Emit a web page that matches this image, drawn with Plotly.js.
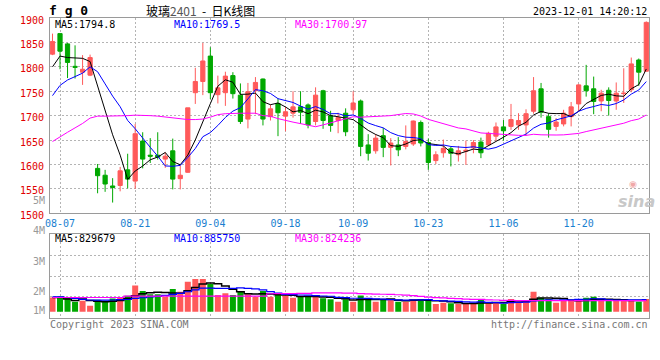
<!DOCTYPE html>
<html>
<head>
<meta charset="utf-8">
<script src="https://cdn.plot.ly/plotly-3.0.1.min.js"></script>
<style>html,body{margin:0;padding:0;background:#fff;}#chart{width:660px;height:360px;}</style>
</head>
<body>
<div id="chart"></div>
<script>
// ---- data (FG401 glass futures, daily K line) ----
const dates = ['08-04','08-07','08-08','08-09','08-10','08-11','08-14','08-15','08-16','08-17','08-18',
 '08-21','08-22','08-23','08-24','08-25','08-28','08-29','08-30','08-31','09-01',
 '09-04','09-05','09-06','09-07','09-08','09-11','09-12','09-13','09-14','09-15',
 '09-18','09-19','09-20','09-21','09-22','09-25','09-26','09-27','09-28',
 '10-09','10-10','10-11','10-12','10-13','10-16','10-17','10-18','10-19','10-20',
 '10-23','10-24','10-25','10-26','10-27','10-30','10-31','11-01','11-02','11-03',
 '11-06','11-07','11-08','11-09','11-10','11-13','11-14','11-15','11-16','11-17',
 '11-20','11-21','11-22','11-23','11-24','11-27','11-28','11-29','11-30','12-01'];

const openP  = [1826,1868,1847,1801,1789,1783,1592,1578,1556,1557,1589,1566,1648,1619,1619,1611,1628,1571,1584,1747,
                1770,1822,1743,1747,1782,1742,1693,1751,1775,1698,1725,1699,1705,1718,1722,1688,1751,1700,1690,1705,
                1712,1730,1640,1628,1659,1635,1640,1637,1642,1686,1645,1608,1624,1632,1620,1627,1634,1646,1640,1658,
                1677,1678,1681,1681,1709,1755,1698,1678,1683,1698,1724,1761,1755,1730,1752,1730,1745,1753,1814,1791];
const highP  = [1868,1868,1849,1844,1824,1825,1601,1589,1572,1595,1622,1683,1666,1654,1666,1625,1653,1598,1716,1798,
                1849,1840,1782,1790,1789,1766,1767,1779,1776,1723,1735,1718,1750,1750,1725,1758,1753,1710,1706,1715,
                1750,1733,1662,1662,1675,1654,1656,1680,1690,1690,1653,1627,1651,1637,1638,1649,1650,1655,1667,1686,
                1691,1724,1705,1713,1779,1767,1705,1695,1712,1728,1765,1804,1780,1753,1758,1768,1797,1819,1817,1893];
const lowP   = [1824,1795,1777,1776,1763,1781,1541,1544,1522,1545,1551,1550,1592,1603,1610,1593,1549,1549,1583,1724,
                1742,1734,1725,1720,1735,1683,1674,1703,1680,1690,1658,1668,1696,1683,1674,1680,1673,1667,1664,1658,
                1703,1617,1608,1622,1615,1598,1617,1631,1638,1637,1589,1601,1614,1596,1606,1599,1623,1613,1638,1648,
                1649,1671,1671,1659,1704,1696,1655,1669,1678,1678,1709,1739,1703,1709,1700,1712,1726,1748,1761,1790];
const closeP = [1852,1832,1809,1799,1795,1819,1577,1560,1553,1587,1570,1663,1611,1617,1615,1617,1570,1578,1716,1770,
                1812,1747,1757,1781,1745,1688,1749,1768,1693,1714,1706,1708,1718,1707,1681,1742,1690,1680,1696,1667,
                1726,1637,1623,1654,1635,1644,1630,1647,1689,1644,1604,1620,1633,1623,1628,1629,1645,1624,1664,1677,
                1669,1692,1690,1704,1751,1707,1672,1687,1705,1718,1763,1751,1729,1746,1731,1746,1746,1806,1789,1891];
const volume = [970000,1000000,970000,760000,810000,570000,860000,810000,920000,970000,1050000,1540000,1280000,1120000,1120000,1000000,1380000,1250000,1730000,1860000,
                1860000,1620000,1090000,1170000,1090000,1280000,1120000,1000000,1280000,1000000,1090000,1060000,960000,1000000,1000000,1090000,930000,880000,770000,880000,
                770000,1060000,900000,770000,850000,880000,770000,770000,900000,900000,850000,660000,720000,690000,660000,660000,690000,850000,690000,740000,
                660000,900000,770000,850000,1250000,960000,900000,720000,800000,800000,850000,960000,1000000,800000,800000,800000,900000,850000,770000,900000];

// moving-average values before enough history exists inside the window
const ma5Head  = [1800,1822,1819,1818];
const ma10Head = [1741,1762,1773,1780,1787,1800,1790,1765,1740];
const ma30Head = [1647,1657,1666,1675,1684,1695,1699,1699,1699,1700,1700,1701,1701,1700,1699,1697,1695,1693,1692,1692,
                  1693,1697,1702,1704,1705,1705,1705,1705,1700];
const vma5Head  = [970000,970000,900000,820000];
const vma10Head = [1000000,1000000,970000,920000,880000,850000,840000,840000,850000];
const vma30Head = [970000,970000,970000,970000,970000,970000,970000,970000,970000,970000,
                   1030000,1030000,1030000,1030000,1030000,1030000,1030000,1030000,1030000,1030000,
                   1030000,1030000,1030000,1030000,1030000,1030000,1030000,1030000,1030000];

const tickDates = ['08-07','08-21','09-04','09-18','10-09','10-23','11-06','11-20'];
const priceTicks = [1500,1550,1600,1650,1700,1750,1800,1850,1900];

// ---- helpers ----
function movingAvg(arr, n, head){
  return arr.map((v,i)=>{
    if(i < n-1) return head[i];
    let s=0; for(let k=i-n+1;k<=i;k++) s+=arr[k];
    return s/n;
  });
}
const idx = dates.map((d,i)=>i);
const tickIdx = tickDates.map(d=>dates.indexOf(d));
const RED='#ff5a5a', GREEN='#00a800';
const volBase = 280000;
const volColors = idx.map(i=> closeP[i] >= openP[i] ? RED : GREEN);

const W=660,H=360;
const px = v=>v/W, py = v=>1-v/H;
const mono = 'DejaVu Sans Mono, monospace';

const traces = [
  {type:'candlestick', x:idx, open:openP, high:highP, low:lowP, close:closeP,
   increasing:{line:{color:RED,width:1}, fillcolor:RED},
   decreasing:{line:{color:GREEN,width:1}, fillcolor:GREEN},
   whiskerwidth:0, hoverinfo:'skip', xaxis:'x', yaxis:'y', showlegend:false},
  {type:'scatter', mode:'lines', x:idx, y:movingAvg(closeP,5,ma5Head), line:{color:'#000000',width:1}, xaxis:'x', yaxis:'y', hoverinfo:'skip'},
  {type:'scatter', mode:'lines', x:idx, y:movingAvg(closeP,10,ma10Head), line:{color:'#0000ff',width:1}, xaxis:'x', yaxis:'y', hoverinfo:'skip'},
  {type:'scatter', mode:'lines', x:idx, y:movingAvg(closeP,30,ma30Head), line:{color:'#ff00ff',width:1}, xaxis:'x', yaxis:'y', hoverinfo:'skip'},
  {type:'bar', x:idx, y:volume.map(v=>v-volBase), base:volBase, width:0.8, marker:{color:volColors, line:{width:0}}, xaxis:'x2', yaxis:'y2', hoverinfo:'skip'},
  {type:'scatter', mode:'lines', x:idx, y:movingAvg(volume,5,vma5Head), line:{color:'#000000',width:1.5,shape:'hvh'}, xaxis:'x2', yaxis:'y2', hoverinfo:'skip'},
  {type:'scatter', mode:'lines', x:idx, y:movingAvg(volume,10,vma10Head), line:{color:'#0000ff',width:1.2,shape:'hvh'}, xaxis:'x2', yaxis:'y2', hoverinfo:'skip'},
  {type:'scatter', mode:'lines', x:idx, y:movingAvg(volume,30,vma30Head), line:{color:'#ff00ff',width:1.2,shape:'hvh'}, xaxis:'x2', yaxis:'y2', hoverinfo:'skip'}
];

const gridStyle = {showgrid:true, gridcolor:'#b4b4b4', gridwidth:1, griddash:'2px,2px', zeroline:false,
                   showline:true, mirror:true, linecolor:'#9a9a9a', linewidth:1, ticks:''};
const xr = [-0.333, 79.4];
const xdom = [px(50), px(649.3)];

function ann(text, x, y, opts){
  return Object.assign({text:text, x:px(x), y:py(y), xref:'paper', yref:'paper', showarrow:false,
    xanchor:'left', yanchor:'middle', font:{family:mono, size:10, color:'#000'}}, opts||{});
}

const annotations = [
  ann('<b>f g 0</b>', 47, 10, {font:{family:mono, size:13, color:'#000'}}),
  ann('玻璃<span style="color:#555">2401</span>\u00a0\u00a0-\u00a0\u00a0日K线图', 200, 10, {xanchor:'center', font:{family:'Noto Sans CJK SC', size:12, color:'#000'}}),
  ann('2023-12-01 14:20:12', 649, 12, {xanchor:'right', font:{family:mono, size:10, color:'#000'}}),
  ann('MA5:1794.8', 53, 24.5, {font:{family:mono, size:10, color:'#000'}}),
  ann('MA10:1769.5', 172, 24.5, {font:{family:mono, size:10, color:'#0000ff'}}),
  ann('MA30:1700.97', 293, 24.5, {font:{family:mono, size:10, color:'#ff00ff'}}),
  ann('MA5:829679', 53, 238.5, {font:{family:mono, size:10, color:'#000'}}),
  ann('MA10:885750', 172, 238.5, {font:{family:mono, size:10, color:'#0000ff'}}),
  ann('MA30:824236', 293, 238.5, {font:{family:mono, size:10, color:'#ff00ff'}}),
  ann('5M', 47, 200, {xanchor:'right', font:{family:mono, size:10, color:'#999'}}),
  ann('4M', 47, 230.7, {xanchor:'right', font:{family:mono, size:10, color:'#999'}}),
  ann('3M', 47, 261, {xanchor:'right', font:{family:mono, size:10, color:'#999'}}),
  ann('2M', 47, 291, {xanchor:'right', font:{family:mono, size:10, color:'#999'}}),
  ann('1M', 47, 310, {xanchor:'right', font:{family:mono, size:10, color:'#999'}}),
  ann('Copyright 2023 SINA.COM', 48, 324, {font:{family:mono, size:10, color:'#777'}}),
  ann('http://finance.sina.com.cn', 650, 324, {xanchor:'right', font:{family:mono, size:10, color:'#777'}}),
  ann('◉', 633, 184, {xanchor:'center', font:{family:'DejaVu Sans', size:9, color:'#f0a8a8'}}),
  ann('sina', 636, 201, {xanchor:'center', font:{family:'DejaVu Sans', size:16, color:'#c8c8c8', style:'italic', weight:'bold'}})
];

const layout = {
  width:W, height:H, margin:{l:0,r:0,t:0,b:0}, paper_bgcolor:'#fff', plot_bgcolor:'#fff',
  showlegend:false, boxgap:0.2, bargap:0.2, hovermode:false,
  xaxis: Object.assign({}, gridStyle, {domain:xdom, range:xr, anchor:'y', tickvals:tickIdx, ticktext:tickDates,
     tickfont:{family:mono, size:10, color:'#1a7fd0'}, ticklabelstandoff:1, rangeslider:{visible:false}}),
  yaxis: Object.assign({}, gridStyle, {domain:[py(213.3), py(18)], range:[1500,1900], anchor:'x', tickvals:priceTicks,
     tickfont:{family:mono, size:10, color:'#e00000'}, ticklabelshift:2, ticklabelstandoff:3}),
  xaxis2: Object.assign({}, gridStyle, {domain:xdom, range:xr, anchor:'y2', tickvals:tickIdx, showticklabels:false}),
  yaxis2: Object.assign({}, gridStyle, {domain:[py(317.7), py(234.3)], range:[0,4000000], anchor:'x2',
     tickvals:[1000000,2000000,3000000], showticklabels:false}),
  annotations: annotations
};

Plotly.newPlot('chart', traces, layout, {staticPlot:true, displayModeBar:false});
</script>
</body>
</html>
